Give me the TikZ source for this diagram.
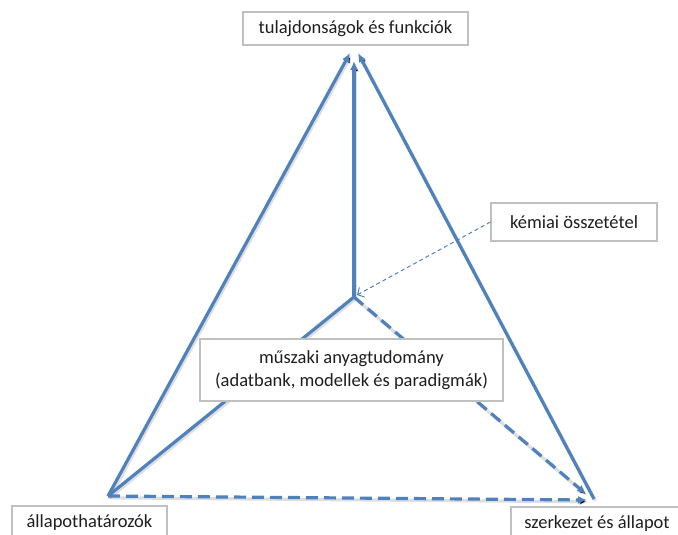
\documentclass[tikz,border=0pt]{standalone}
\usepackage{fontspec}
\setmainfont{Carlito}
\usetikzlibrary{arrows.meta}
\definecolor{edgeblue}{HTML}{4F81BD}
\definecolor{boxline}{HTML}{C0C0C0}
\definecolor{txt}{HTML}{1E1E1E}
\tikzset{
  label box/.style={draw=boxline, line width=1.2pt, fill=white, text=txt,
    font=\fontsize{18.5}{22.5}\selectfont, align=center, inner sep=0pt},
  soft shadow/.style={preaction={draw=black, draw opacity=0.13, line width=3.2pt,
    transform canvas={shift={(1.5,1.8)}}}},
  edge/.style={draw=edgeblue, line width=3.2pt, soft shadow},
  dashedge/.style={edge, dash pattern=on 12pt off 6pt},
  tip/.style={-{Latex[length=9pt,width=8pt]}},
  pointer/.style={draw=edgeblue, line width=1pt, dash pattern=on 4pt off 3pt,
    -{Straight Barb[length=5pt,width=11pt,line width=1pt]}}
}
\begin{document}
\begin{tikzpicture}[x=1pt,y=-1pt]
\useasboundingbox (0,0) rectangle (678,535);

% vertices of the tetrahedron
\coordinate (apexL) at (350,53);
\coordinate (apexM) at (354,61);
\coordinate (apexR) at (358,53);
\coordinate (inner) at (354,297);
\coordinate (baseL) at (108,496);
\coordinate (baseRs) at (594,499);
\coordinate (baseRd) at (586,494);
\coordinate (baseRh) at (587,500);

% edges
\draw[edge, tip] (baseL) -- (apexL);
\draw[edge, tip] (baseRs) -- (apexR);
\draw[edge, tip] (inner) -- (apexM);
\draw[edge] (inner) -- (baseL);
\draw[dashedge, tip] (inner) -- (baseRd);
\draw[dashedge, tip] (baseL) -- (baseRh);

% labels
\node[label box, minimum width=225pt, minimum height=33pt] (props) at (355.5,28.5)
  {tulajdonságok és funkciók};
\node[label box, minimum width=166pt, minimum height=38pt] (chem) at (574,222)
  {kémiai összetétel};
\node[label box, minimum width=303pt, minimum height=62pt] (core) at (351.5,370)
  {műszaki anyagtudomány\\(adatbank, modellek és paradigmák)};
\node[label box, minimum width=155pt, minimum height=34pt] (state) at (89.5,523)
  {állapothatározók};
\node[label box, minimum width=172pt, minimum height=34pt] (struct) at (597,524)
  {szerkezet és állapot};

\draw[pointer] (chem.west) -- ([shift={(3,-2)}]inner);
\end{tikzpicture}
\end{document}
